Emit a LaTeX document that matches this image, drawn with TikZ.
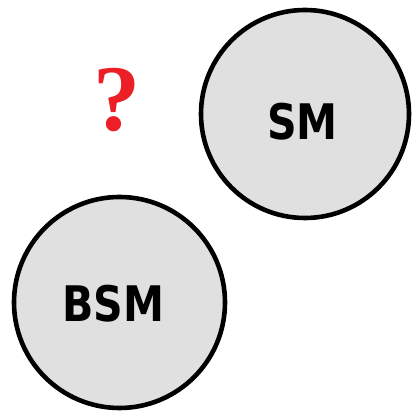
\documentclass[tikz,border=0pt]{standalone}
\usepackage{fontspec}
\usepackage{graphicx}
\newfontfamily\lblfont{DejaVu Sans}
\newfontfamily\qfont{Liberation Serif}
\definecolor{qred}{RGB}{236,30,38}
\definecolor{cfill}{RGB}{224,224,224}
\newcommand{\narrowtxt}[1]{\scalebox{0.84}[1]{#1}}
\begin{document}
\begin{tikzpicture}[x=1pt,y=1pt,
  ball/.style={circle,draw=black,line width=4.6pt,fill=cfill,inner sep=0pt},
  lbl/.style={font=\lblfont\bfseries\fontsize{49}{49}\selectfont,inner sep=0pt,anchor=center}]
\useasboundingbox (0,0) rectangle (412,411);
\node[ball,minimum size=208pt] (sm) at (305,297) {};
\node[ball,minimum size=211pt] (bsm) at (119.5,108.5) {};
\node[lbl] (smt) at (302.5,289) {\narrowtxt{SM}};
\node[lbl] (bsmt) at (113,107.5) {\narrowtxt{BSM}};
\node[font=\qfont\bfseries\fontsize{94}{94}\selectfont,text=qred,inner sep=0pt] (q) at (116.5,311) {?};
\end{tikzpicture}
\end{document}
